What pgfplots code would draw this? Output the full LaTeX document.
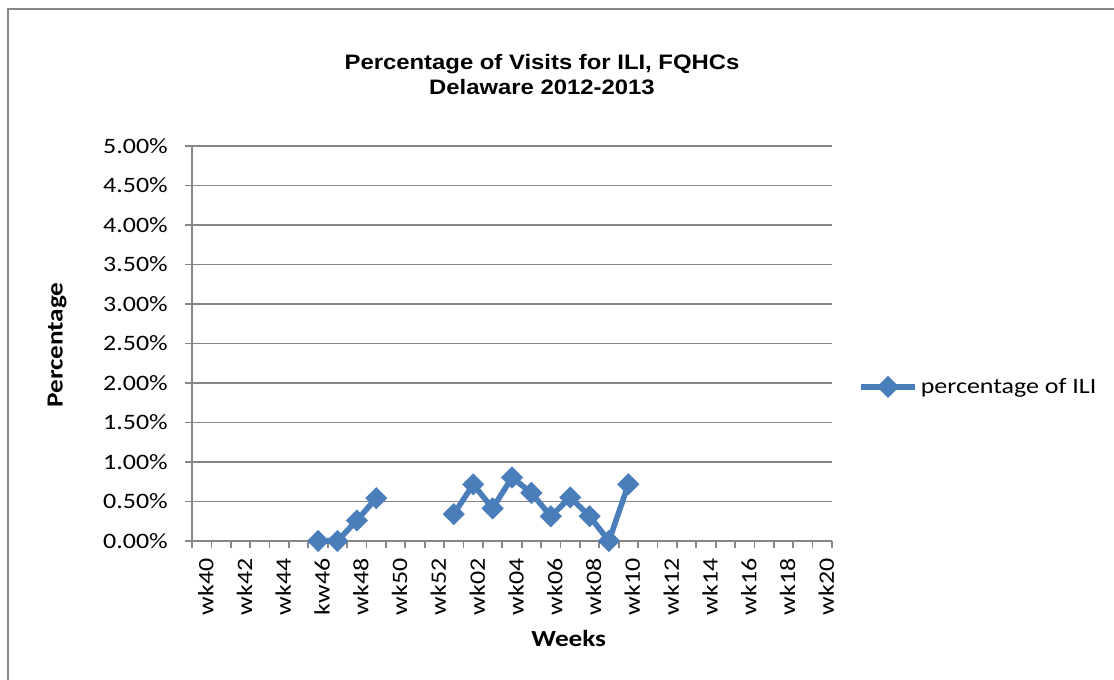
\documentclass[border=0pt]{standalone}
\usepackage{pgfplots}
\pgfplotsset{compat=1.18}
\usepackage{pgfplotstable}
\usepackage{fontspec}
\setmainfont{Carlito}[FakeStretch=1.18]
\newfontfamily\titlefont{Liberation Sans}[FakeStretch=1.14]
\definecolor{serblue}{HTML}{4A7EBB}
\definecolor{axgray}{HTML}{868686}
\pgfplotstableread{
x y
6 0
7 0
8 0.26
9 0.543
10 nan
11 nan
12 nan
13 0.34
14 0.717
15 0.413
16 0.804
17 0.609
18 0.313
19 0.552
20 0.313
21 0
22 0.717
}\ilidata
\begin{document}
\begin{tikzpicture}[x=0.75pt,y=0.75pt]
\useasboundingbox (0,0) rectangle (1114,680);
\draw[axgray, line width=1.5pt] (7.5,-10) -- (7.5,671) -- (1130,671);
\node[font=\titlefont\bfseries\fontsize{15.7}{18}\selectfont, anchor=base] at (542,610) {Percentage of Visits for ILI, FQHCs};
\node[font=\titlefont\bfseries\fontsize{15.7}{18}\selectfont, anchor=base] at (542,585) {Delaware 2012-2013};
\node[font=\bfseries\fontsize{17.3}{20}\selectfont, rotate=90] at (57,335) {Percentage};
\node[font=\bfseries\fontsize{17.3}{20}\selectfont, anchor=base] at (568.7,33.3) {Weeks};
\begin{axis}[
  at={(144pt,104.25pt)}, anchor=south west,
  scale only axis, width=480pt, height=296.25pt,
  xmin=-0.5, xmax=32.5, ymin=0, ymax=5,
  clip=false,
  axis lines*=left,
  axis line style={axgray, line width=1.3pt},
  ymajorgrids, grid style={axgray, line width=1.3pt},
  tick align=outside,
  major tick length=5pt, minor tick length=5pt,
  ytick={0,0.5,1,1.5,2,2.5,3,3.5,4,4.5,5},
  yticklabels={0.00\%,0.50\%,1.00\%,1.50\%,2.00\%,2.50\%,3.00\%,3.50\%,4.00\%,4.50\%,5.00\%},
  xtick={0,2,...,32},
  xticklabels={wk40,wk42,wk44,kw46,wk48,wk50,wk52,wk02,wk04,wk06,wk08,wk10,wk12,wk14,wk16,wk18,wk20},
  minor xtick={-0.5,0.5,...,32.5},
  major x tick style={draw=none},
  minor x tick style={axgray, line width=1.3pt},
  y tick style={axgray, line width=1.3pt},
  xticklabel style={xshift=3pt, rotate=90, anchor=east, font=\fontsize{16.5}{18}\selectfont, inner sep=0pt},
  xticklabel shift=8pt,
  yticklabel style={font=\fontsize{16.5}{18}\selectfont, inner sep=0pt},
  yticklabel shift=13pt,
  unbounded coords=jump,
  legend style={at={(1.04,0.39)}, anchor=west, draw=none, fill=none, inner sep=0pt,
    font=\fontsize{16.5}{18}\selectfont},
  legend cell align=left,
  legend image code/.code={\draw[mark repeat=2,mark phase=2,#1] plot coordinates {(0pt,0pt) (20.5pt,0pt) (41pt,0pt)};},
]
\addplot[color=serblue, line width=4.2pt, mark=square*, mark size=5.6pt,
  mark options={rotate=45, line width=0.5pt, solid}] table[x=x,y=y] {\ilidata};
\addlegendentry{percentage of ILI}
\end{axis}
\end{tikzpicture}
\end{document}
